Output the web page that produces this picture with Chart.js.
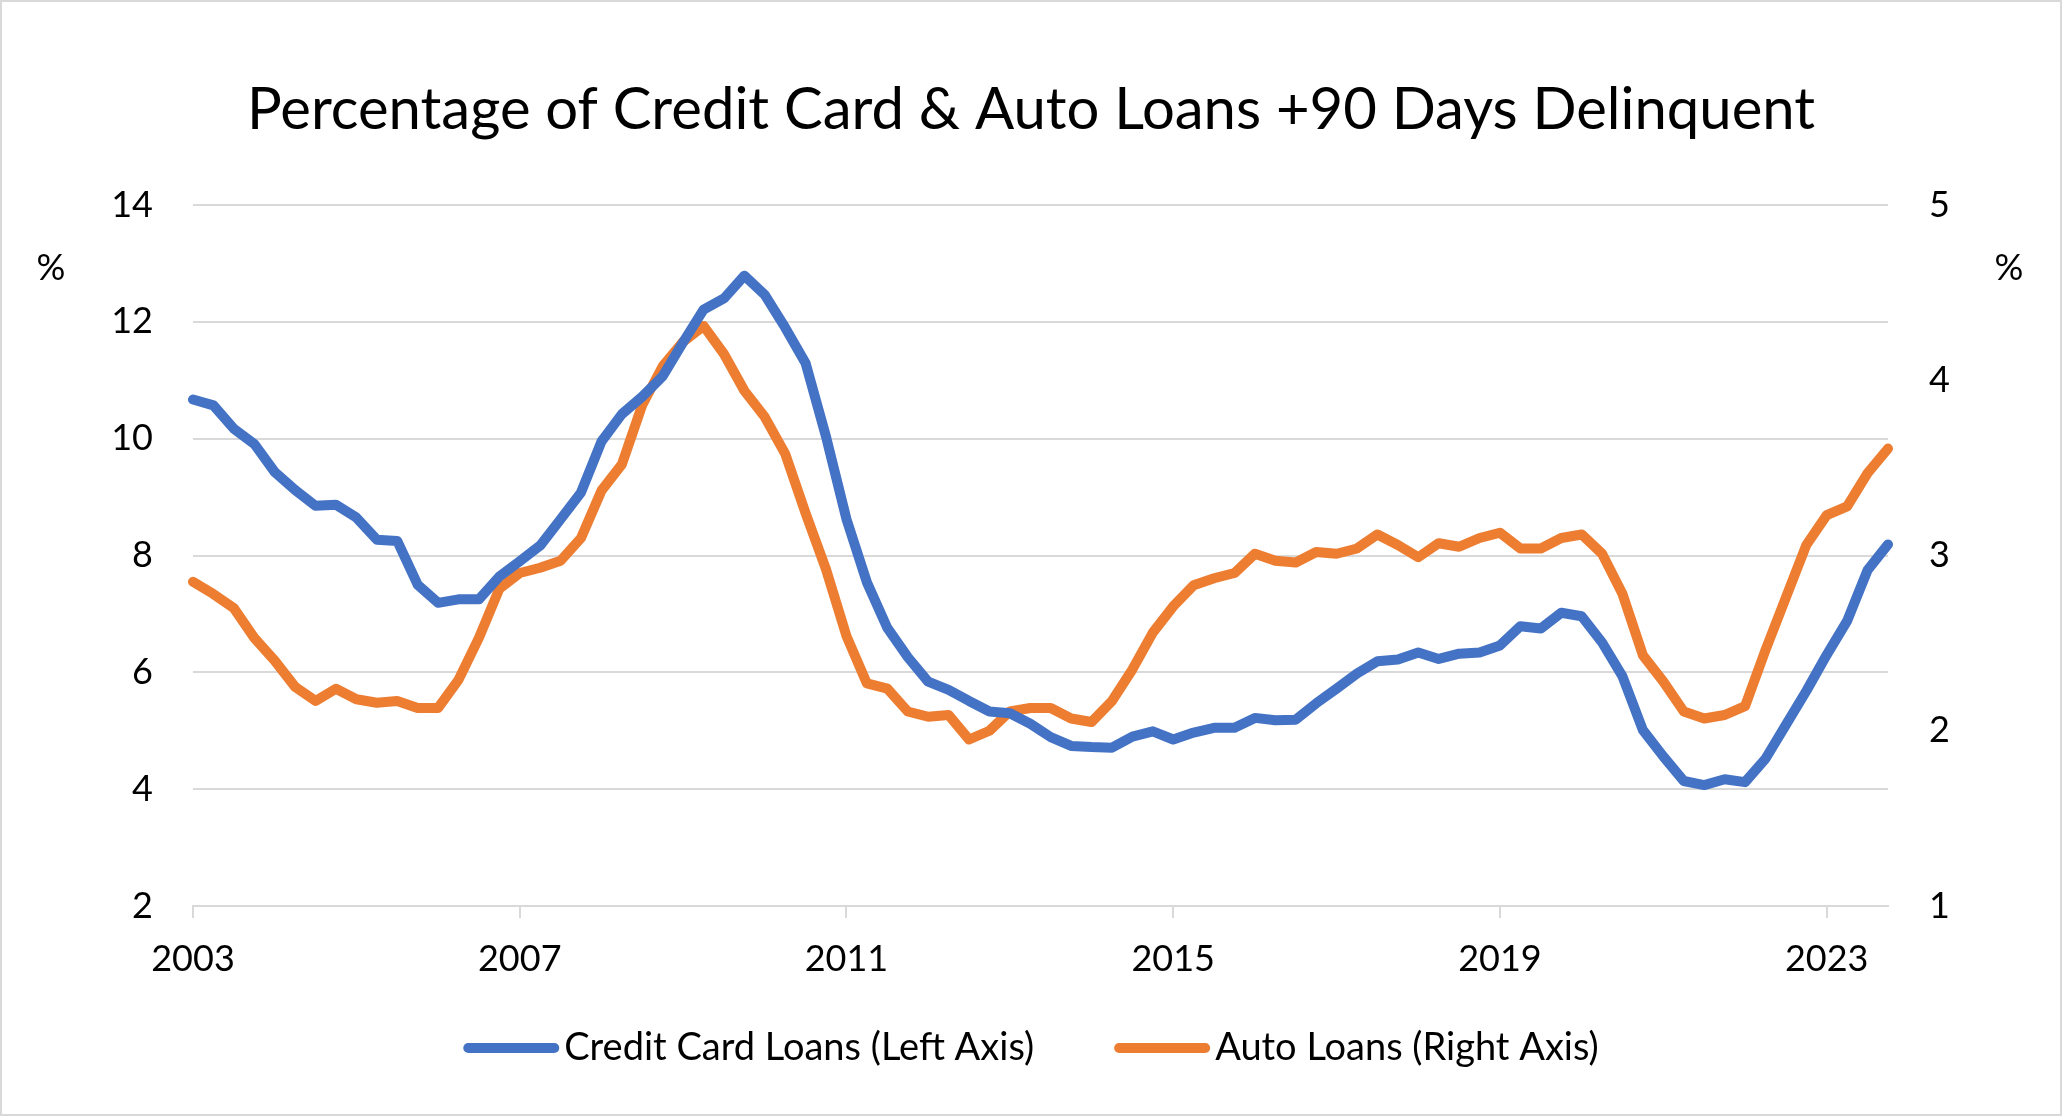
<!DOCTYPE html>
<html>
<head>
<meta charset="utf-8">
<script src="https://cdn.jsdelivr.net/npm/chart.js@4"></script>
<style>
  html, body { margin: 0; padding: 0; background: #fff; }
  #wrap { width: 2062px; height: 1116px; position: relative; }
</style>
</head>
<body>
<div id="wrap"><canvas id="myChart"></canvas></div>
<script>
// quarterly data, 2003 Q1 .. 2023 Q4
var years = []
for (var y = 2003; y <= 2023; y++) years.push(y)
var quarters = []
years.forEach(function (yr) { for (var q = 1; q <= 4; q++) quarters.push(yr + ' Q' + q) })

var tickYears = ['2003', '2007', '2011', '2015', '2019', '2023']

// % of balance 90+ days delinquent (left axis)
var creditCard = [
  10.67, 10.57, 10.17, 9.91, 9.43, 9.12, 8.85, 8.87, 8.65, 8.27, 8.25, 7.50,
  7.19, 7.25, 7.25, 7.64, 7.90, 8.17, 8.62, 9.08, 9.95, 10.42, 10.72, 11.07,
  11.65, 12.21, 12.40, 12.79, 12.46, 11.90, 11.29, 10.03, 8.62, 7.54, 6.76, 6.26,
  5.84, 5.70, 5.51, 5.33, 5.30, 5.12, 4.89, 4.74, 4.72, 4.71, 4.90, 4.99,
  4.85, 4.97, 5.05, 5.05, 5.22, 5.18, 5.19, 5.47, 5.72, 5.98, 6.19, 6.22,
  6.34, 6.23, 6.32, 6.34, 6.46, 6.79, 6.75, 7.02, 6.96, 6.51, 5.93, 5.01,
  4.56, 4.14, 4.07, 4.17, 4.12, 4.52, 5.10, 5.68, 6.30, 6.88, 7.75, 8.19
]

// right axis
var autoLoans = [
  2.85, 2.78, 2.70, 2.53, 2.40, 2.25, 2.17, 2.24, 2.18, 2.16, 2.17, 2.13,
  2.13, 2.29, 2.53, 2.81, 2.90, 2.93, 2.97, 3.10, 3.37, 3.52, 3.86, 4.08,
  4.22, 4.31, 4.15, 3.94, 3.79, 3.58, 3.24, 2.92, 2.54, 2.27, 2.24, 2.11,
  2.08, 2.09, 1.95, 2.00, 2.11, 2.13, 2.13, 2.07, 2.05, 2.17, 2.35, 2.56,
  2.71, 2.83, 2.87, 2.90, 3.01, 2.97, 2.96, 3.02, 3.01, 3.04, 3.12, 3.06,
  2.99, 3.07, 3.05, 3.10, 3.13, 3.04, 3.04, 3.10, 3.12, 3.01, 2.78, 2.43,
  2.28, 2.11, 2.07, 2.09, 2.14, 2.46, 2.76, 3.06, 3.23, 3.28, 3.47, 3.61
]

var FONT = 'Lato, "Noto Sans", sans-serif'
var GRID = '#d9d9d9'

function isYearTick(i) {
  var lab = quarters[i]
  return lab && lab.slice(5) === 'Q1' && tickYears.indexOf(lab.slice(0, 4)) >= 0
}

// title, % labels, legend and frame
var extras = {
  id: 'extras',
  afterDraw: function (chart) {
    var c = chart.ctx, W = chart.width
    c.save()
    c.strokeStyle = GRID
    c.lineWidth = 2
    c.strokeRect(1, 1, W - 2, chart.height - 2)

    c.fillStyle = '#000'
    c.textAlign = 'center'
    c.textBaseline = 'middle'
    c.font = '58px ' + FONT
    c.fillText('Percentage of Credit Card & Auto Loans +90 Days Delinquent', W / 2, 110)

    c.font = '36px ' + FONT
    c.fillText('%', 51, 268)
    c.fillText('%', 2009, 268)

    // legend
    c.font = '38px ' + FONT
    var sets = chart.data.datasets
    var mark = 96, gap = 5, between = 80
    var widths = sets.map(function (d) { return mark + gap + c.measureText(d.label).width })
    var total = widths[0] + widths[1] + between
    var x = W / 2 - total / 2, ly = 1048
    c.textAlign = 'left'
    sets.forEach(function (d, i) {
      c.strokeStyle = d.borderColor
      c.lineWidth = 10
      c.lineCap = 'round'
      c.beginPath()
      c.moveTo(x + 5, ly)
      c.lineTo(x + mark - 5, ly)
      c.stroke()
      c.fillText(d.label, x + mark + gap, ly)
      x += widths[i] + between
    })
    c.restore()
  }
}

var ctx = document.getElementById('myChart').getContext('2d')
var visual = new Chart(ctx, {
  type: 'line',
  data: {
    labels: quarters,
    datasets: [
      { label: 'Credit Card Loans (Left Axis)', data: creditCard, yAxisID: 'yL',
        borderColor: '#4472C4', backgroundColor: '#4472C4', borderWidth: 10,
        pointRadius: 0, tension: 0, borderJoinStyle: 'round', borderCapStyle: 'round' },
      { label: 'Auto Loans (Right Axis)', data: autoLoans, yAxisID: 'yR',
        borderColor: '#ED7D31', backgroundColor: '#ED7D31', borderWidth: 10,
        pointRadius: 0, tension: 0, borderJoinStyle: 'round', borderCapStyle: 'round' }
    ]
  },
  options: {
    responsive: true,
    maintainAspectRatio: false,
    animation: false,
    layout: { padding: { top: 205, left: 0, right: 0, bottom: 0 } },
    plugins: { legend: { display: false }, title: { display: false }, tooltip: { enabled: false } },
    scales: {
      x: {
        type: 'category',
        offset: false,
        afterFit: function (s) { s.height = 210 },
        grid: {
          drawOnChartArea: false, tickLength: 12, lineWidth: 2,
          color: function (c) { return isYearTick(c.index) ? GRID : 'rgba(0,0,0,0)' }
        },
        border: { display: true, color: GRID, width: 2 },
        ticks: {
          autoSkip: false, maxRotation: 0, minRotation: 0, padding: 20,
          color: '#000', font: { family: FONT, size: 36 },
          callback: function (v, i) { return isYearTick(i) ? quarters[i].slice(0, 4) : '' }
        }
      },
      yL: {
        position: 'left', min: 2, max: 14,
        afterFit: function (s) { s.width = 193 },
        grid: { color: GRID, lineWidth: 2, drawTicks: false },
        border: { display: false },
        ticks: { stepSize: 2, padding: 40, color: '#000', font: { family: FONT, size: 36 } }
      },
      yR: {
        position: 'right', min: 1, max: 5,
        afterFit: function (s) { s.width = 174 },
        grid: { display: false, drawTicks: false },
        border: { display: false },
        ticks: { stepSize: 1, padding: 41, color: '#000', font: { family: FONT, size: 36 } }
      }
    }
  },
  plugins: [extras]
})
</script>
</body>
</html>
